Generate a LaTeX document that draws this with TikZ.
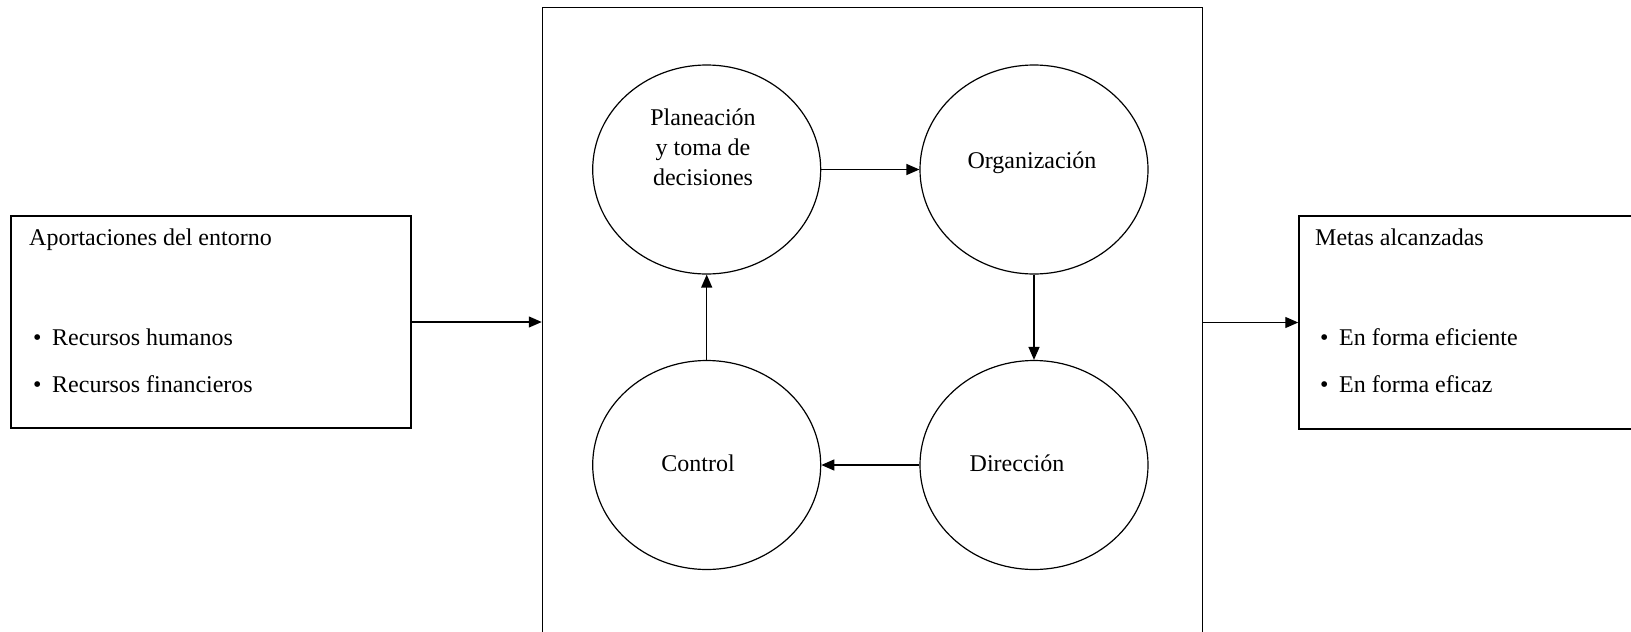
\documentclass[tikz,border=0pt]{standalone}
\usepackage{fontspec}
\setmainfont{Liberation Serif}
\usetikzlibrary{shapes.geometric,arrows.meta}

\begin{document}
\begin{tikzpicture}[x=1pt,y=-1pt,
  every node/.style={font=\fontsize{24}{30}\selectfont},
  panel/.style={draw=black,line width=1.5pt,rectangle,inner sep=0pt},
  stage/.style={draw=black,line width=1.2pt,ellipse,inner sep=0pt,
                minimum width=228pt,minimum height=209pt},
  caption/.style={inner sep=0pt,anchor=base},
  item/.style={inner sep=0pt,anchor=base west},
  flow/.style={line width=1.3pt,-{Triangle[length=13pt,width=11pt]}}]
\useasboundingbox (0,0) rectangle (1631,632);

% outer boxes: inputs, process frame, outputs
\node[panel,minimum width=400pt,minimum height=212pt] (inputs) at (211,322) {};
\node[panel,minimum width=660pt,minimum height=652pt] (frame) at (872.5,333.5) {};
\node[panel,minimum width=361pt,minimum height=213pt] (outputs) at (1479.5,322.5) {};

% inputs box text
\node[item] (intitle) at (29,245) {Aportaciones del entorno};
\node[item] (inb1) at (33,345) {•};
\node[item] (in1) at (52,345) {Recursos humanos};
\node[item] (inb2) at (33,392) {•};
\node[item] (in2) at (52,392) {Recursos financieros};

% outputs box text
\node[item] (outtitle) at (1315,245) {Metas alcanzadas};
\node[item] (outb1) at (1320,345) {•};
\node[item] (out1) at (1339,345) {En forma eficiente};
\node[item] (outb2) at (1320,392) {•};
\node[item] (out2) at (1339,392) {En forma eficaz};

% the four management stages
\node[stage] (plan) at (706.7,169.5) {};
\node[stage] (org)  at (1034,169.5) {};
\node[stage] (ctrl) at (706.7,465) {};
\node[stage] (dir)  at (1034,465) {};

\node[inner sep=0pt,align=center] (plantxt) at (703,147) {Planeación\\y toma de\\decisiones};
\node[caption] (orgtxt) at (1032,168) {Organización};
\node[caption] (ctrltxt) at (698,471) {Control};
\node[caption] (dirtxt) at (1017,471) {Dirección};

% cycle
\draw[flow] (plan.east) -- (org.west);
\draw[flow] (org.south) -- (dir.north);
\draw[flow] (dir.west) -- (ctrl.east);
\draw[flow] (ctrl.north) -- (plan.south);

% environment in, goals out
\draw[flow] (inputs.east) -- (frame.west |- inputs.east);
\draw[flow] (frame.east |- outputs.west) -- (outputs.west);
\end{tikzpicture}
\end{document}
